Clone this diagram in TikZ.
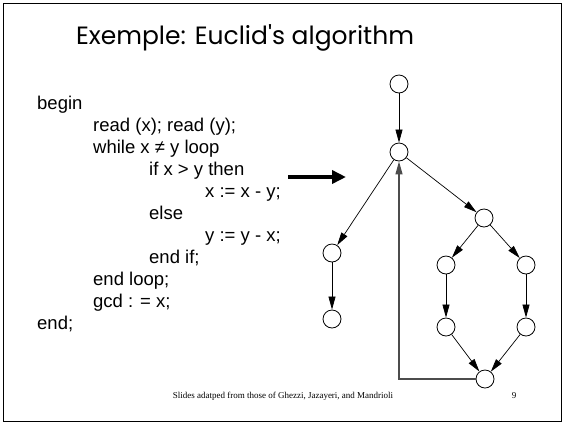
\documentclass[tikz,border=0pt]{standalone}
\usepackage{fontspec}
\setmainfont{Liberation Sans}
\newfontfamily\titlefont{Poppins}
\newfontfamily\footfont{Liberation Serif}
\usetikzlibrary{arrows.meta}
\begin{document}
\begin{tikzpicture}[x=1pt,y=-1pt,
  vtx/.style={circle,draw=black,line width=0.8pt,minimum size=18pt,inner sep=0pt},
  edge/.style={draw=black,line width=0.7pt,-{Triangle[length=13pt,width=7pt]}},
  codeline/.style={anchor=base west,inner sep=0pt,font=\fontsize{18.5}{22}\selectfont},
  ]
\useasboundingbox (0,0) rectangle (564,424);
\draw[line width=1.8pt] (3.5,3.5) rectangle (561.5,421.5);
\node[font=\titlefont\fontsize{25}{30}\selectfont] (title) at (245,38) {Exemple: Euclid's algorithm};
% code
\node[codeline] (c1) at (37,109) {begin};
\node[codeline] (c2) at (93,131) {read (x); read (y);};
\node[codeline] (c3) at (93,153) {while x ≠ y loop};
\node[codeline] (c4) at (149,175) {if x > y then};
\node[codeline] (c5) at (205,197) {x := x - y;};
\node[codeline] (c6) at (149,219) {else};
\node[codeline] (c7) at (205,241) {y := y - x;};
\node[codeline] (c8) at (149,263) {end if;};
\node[codeline] (c9) at (93,285) {end loop;};
\node[codeline] (c10) at (93,307) {gcd : = x;};
\node[codeline] (c11) at (37,329) {end;};
% big arrow
\coordinate (a0) at (288,177);
\coordinate (a1) at (346,177);
\draw[line width=4pt,-{Triangle[length=14pt,width=13pt]}] (a0) -- (a1);
% graph
\node[vtx] (n1) at (399,84) {};
\node[vtx] (n2) at (399,152) {};
\node[vtx] (n3) at (484,218) {};
\node[vtx] (n4) at (332,253) {};
\node[vtx] (n5) at (332,319) {};
\node[vtx] (n6) at (446,265) {};
\node[vtx] (n7) at (526,265) {};
\node[vtx] (n8) at (446,327) {};
\node[vtx] (n9) at (526,327) {};
\node[vtx] (n10) at (485,379) {};
\draw[edge] (n1) -- (n2);
\draw[edge] (n2) -- (n4);
\draw[edge] (n2) -- (n3);
\draw[edge] (n4) -- (n5);
\draw[edge] (n3) -- (n6);
\draw[edge] (n3) -- (n7);
\draw[edge] (n6) -- (n8);
\draw[edge] (n7) -- (n9);
\draw[edge] (n8) -- (n10);
\draw[edge] (n9) -- (n10);
\draw[edge,draw=black!70,line width=1.2pt] (n10.west) -| (n2.south);
% footer
\node[font=\footfont\fontsize{9}{10}\selectfont] (foot) at (283,396) {Slides adatped from those of Ghezzi, Jazayeri, and Mandrioli};
\node[font=\footfont\fontsize{9}{10}\selectfont] (page) at (514,396) {9};
\end{tikzpicture}
\end{document}
